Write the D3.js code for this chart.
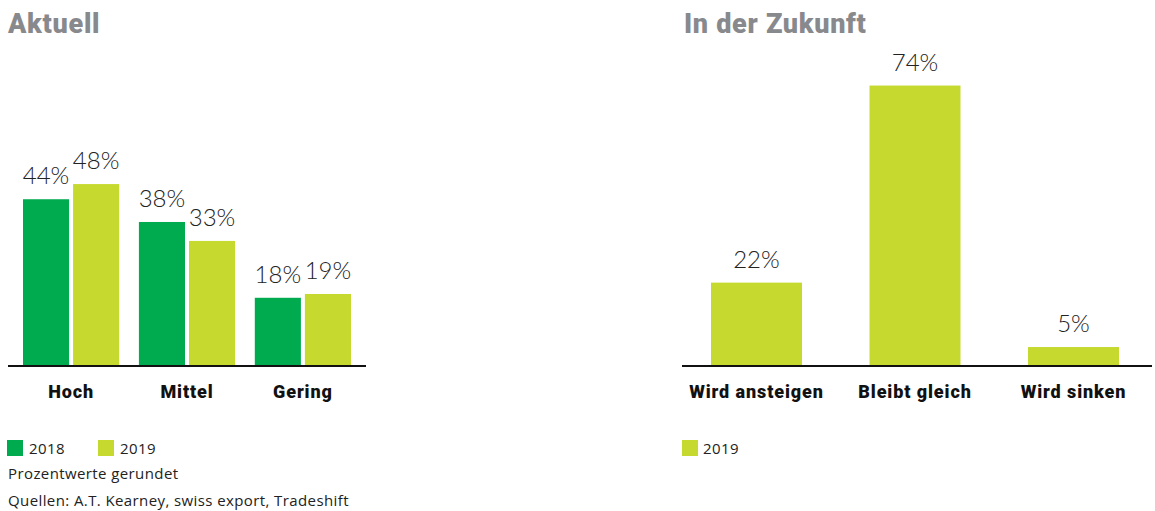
<!DOCTYPE html>
<html>
<head>
<meta charset="utf-8">
<script src="https://cdn.jsdelivr.net/npm/d3@7"></script>
<style>
  body { margin: 0; background: #fff; }
  svg { display: block; font-family: "Open Sans", "Noto Sans", sans-serif; }
  .title { font-family: Roboto, sans-serif; font-size: 27px; font-weight: 900; fill: #88898d; letter-spacing: 0.7px; }
  .val { font-family: Lato, sans-serif; font-size: 24px; font-weight: 300; fill: #222; }
  .cat { font-family: Roboto, sans-serif; font-size: 18px; font-weight: 900; fill: #111; letter-spacing: 0.9px; }
  .note { font-size: 15px; font-weight: 400; fill: #222; letter-spacing: 0.4px; }
</style>
</head>
<body>
<svg id="chart" width="1155" height="511"></svg>
<script>
// data
const nowCategories = ["Hoch", "Mittel", "Gering"];
const years = ["2018", "2019"];
const now2018 = [44, 38, 18];
const now2019 = [48, 33, 19];

const futureCategories = ["Wird ansteigen", "Bleibt gleich", "Wird sinken"];
const future2019 = [22, 74, 5];

const notes = ["Prozentwerte gerundet", "Quellen: A.T. Kearney, swiss export, Tradeshift"];

const colors = { "2018": "#00aa4f", "2019": "#c6d92e" };

const svg = d3.select("#chart");
const baseline = 366;

// same vertical scale for both panels
const y = d3.scaleLinear().domain([0, 100]).range([baseline, baseline - 379]);

// ---- left: Aktuell ----
const left = svg.append("g");
left.append("text").attr("class", "title").attr("x", 8).attr("y", 33).text("Aktuell");

const x0 = d3.scaleBand().domain(nowCategories).range([23, 351]).paddingInner(0.17);
const x1 = d3.scaleBand().domain(years).range([0, x0.bandwidth()]).paddingInner(0.08);

const nowRows = nowCategories.map((c, i) => ({
  cat: c,
  vals: [{ year: "2018", v: now2018[i] }, { year: "2019", v: now2019[i] }]
}));

const groups = left.selectAll("g.grp").data(nowRows).enter()
  .append("g").attr("class", "grp")
  .attr("transform", d => `translate(${x0(d.cat)},0)`);

groups.selectAll("rect").data(d => d.vals).enter().append("rect")
  .attr("x", d => x1(d.year))
  .attr("y", d => y(d.v))
  .attr("width", x1.bandwidth())
  .attr("height", d => baseline - y(d.v))
  .attr("fill", d => colors[d.year]);

groups.selectAll("text.val").data(d => d.vals).enter().append("text")
  .attr("class", "val")
  .attr("text-anchor", "middle")
  .attr("x", d => x1(d.year) + x1.bandwidth() / 2)
  .attr("y", d => y(d.v) - 15)
  .text(d => d.v + "%");

const leftAxis = d3.axisBottom(x0).tickSize(0).tickPadding(19);
left.append("g").attr("transform", `translate(0,${baseline})`).call(leftAxis)
  .call(g => g.select(".domain").attr("d", "M8,0H366").attr("stroke", "#111").attr("stroke-width", 2))
  .call(g => g.selectAll(".tick text").attr("class", "cat").attr("font-family", null).attr("font-size", null).attr("fill", null));

// legend + notes
const leg = left.selectAll("g.leg").data(years).enter().append("g").attr("class", "leg")
  .attr("transform", (d, i) => `translate(${7 + i * 91},440)`);
leg.append("rect").attr("width", 16).attr("height", 16).attr("fill", d => colors[d]);
leg.append("text").attr("class", "note").attr("x", 22).attr("y", 13.5).text(d => d);

left.selectAll("text.src").data(notes).enter().append("text")
  .attr("class", "note src").attr("x", 8).attr("y", (d, i) => 479 + i * 27).text(d => d);

// ---- right: In der Zukunft ----
const right = svg.append("g");
right.append("text").attr("class", "title").attr("x", 684).attr("y", 33).text("In der Zukunft");

const xf = d3.scaleBand().domain(futureCategories).range([711, 1119]).paddingInner(0.426);

right.selectAll("rect.bar").data(future2019).enter().append("rect")
  .attr("class", "bar")
  .attr("x", (d, i) => xf(futureCategories[i]))
  .attr("y", d => y(d))
  .attr("width", xf.bandwidth())
  .attr("height", d => baseline - y(d))
  .attr("fill", colors["2019"]);

right.selectAll("text.val").data(future2019).enter().append("text")
  .attr("class", "val")
  .attr("text-anchor", "middle")
  .attr("x", (d, i) => xf(futureCategories[i]) + xf.bandwidth() / 2)
  .attr("y", d => y(d) - 15)
  .text(d => d + "%");

const rightAxis = d3.axisBottom(xf).tickSize(0).tickPadding(19);
right.append("g").attr("transform", `translate(0,${baseline})`).call(rightAxis)
  .call(g => g.select(".domain").attr("d", "M682,0H1152").attr("stroke", "#111").attr("stroke-width", 2))
  .call(g => g.selectAll(".tick text").attr("class", "cat").attr("font-family", null).attr("font-size", null).attr("fill", null));

const rleg = right.append("g").attr("transform", "translate(682,440)");
rleg.append("rect").attr("width", 16).attr("height", 16).attr("fill", colors["2019"]);
rleg.append("text").attr("class", "note").attr("x", 21).attr("y", 13.5).text("2019");
</script>
</body>
</html>
